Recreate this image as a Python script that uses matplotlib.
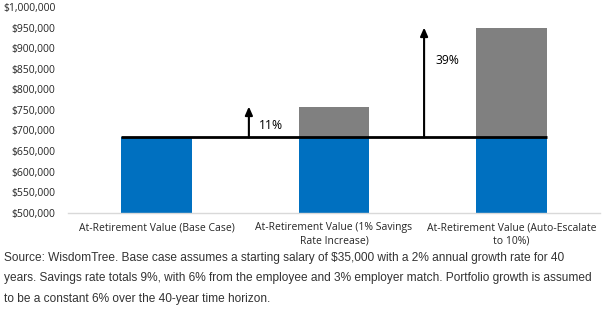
import matplotlib
matplotlib.use("Agg")
import matplotlib.pyplot as plt
from matplotlib.ticker import FuncFormatter

categories = ["At-Retirement Value (Base Case)",
              "At-Retirement Value (1% Savings\nRate Increase)",
              "At-Retirement Value (Auto-Escalate\nto 10%)"]
base_values = [683000, 683000, 683000]
totals = [683000, 758000, 950000]
increase_labels = ["11%", "39%"]
yticks = list(range(500000, 1000001, 50000))
foot_lines = ["Source: WisdomTree. Base case assumes a starting salary of $35,000 with a 2% annual growth rate for 40",
              "years. Savings rate totals 9%, with 6% from the employee and 3% employer match. Portfolio growth is assumed",
              "to be a constant 6% over the 40-year time horizon."]

fig = plt.figure(figsize=(6.06, 3.09), dpi=100)
ax = fig.add_axes([68/606, 96.3/309, 532/606, (302-96.3)/309])

x = list(range(len(categories)))
extra = [t - b for t, b in zip(totals, base_values)]
ax.bar(x, base_values, width=0.4, color="#0070C0", zorder=2)
ax.bar(x, extra, bottom=base_values, width=0.4, color="#808080", zorder=2)

ax.set_xlim(-0.5, 2.5)
ax.set_ylim(500000, 1000000)
ax.set_yticks(yticks)
ax.yaxis.set_major_formatter(FuncFormatter(lambda v, p: "${:,.0f}".format(v)))
ax.set_xticks(x)
ax.set_xticklabels(categories, fontsize=7.5, family="Open Sans", color="#262626", linespacing=1.25)
for lab in ax.get_yticklabels():
    lab.set_fontsize(7.5)
    lab.set_family("Open Sans")
    lab.set_color("#262626")
ax.tick_params(axis="x", length=0, pad=7)
ax.tick_params(axis="y", length=0, pad=9)
for s in ["top", "right", "left"]:
    ax.spines[s].set_visible(False)
ax.spines["bottom"].set_color("#D9D9D9")
ax.spines["bottom"].set_linewidth(1)

# baseline reference line
ax.plot([-0.2, 2.2], [base_values[0], base_values[0]], color="black", lw=2, zorder=3, solid_capstyle="butt")

# arrows
arrow_x = [0.52, 1.508]
for ax_x, top in zip(arrow_x, totals[1:]):
    ax.annotate("", xy=(ax_x, top), xytext=(ax_x, base_values[0]),
                arrowprops=dict(arrowstyle="-|>,head_length=0.5,head_width=0.22", color="black", lw=1.5,
                                shrinkA=0, shrinkB=0), zorder=4)
ax.text(0.577, 712000, increase_labels[0],
        fontsize=8.7, family="Open Sans", va="center", ha="left", color="black")
ax.text(1.57, 869000, increase_labels[1],
        fontsize=8.7, family="Open Sans", va="center", ha="left", color="black")

for i, line in enumerate(foot_lines):
    fig.text(4/606, 1 - (261 + 20.5 * i)/309, line, fontsize=8.6, family="Liberation Sans",
             color="#333333", va="baseline", ha="left")

fig.savefig("out.png", dpi=100)
